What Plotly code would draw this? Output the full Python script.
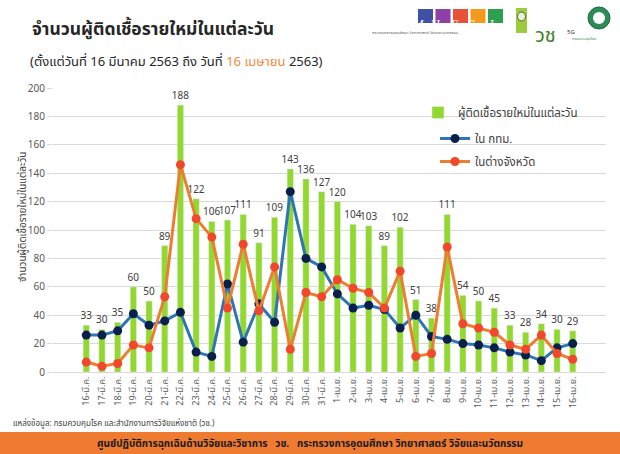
import plotly.graph_objects as go

days = ["16-มี.ค.", "17-มี.ค.", "18-มี.ค.", "19-มี.ค.", "20-มี.ค.", "21-มี.ค.", "22-มี.ค.", "23-มี.ค.",
        "24-มี.ค.", "25-มี.ค.", "26-มี.ค.", "27-มี.ค.", "28-มี.ค.", "29-มี.ค.", "30-มี.ค.", "31-มี.ค.",
        "1-เม.ย.", "2-เม.ย.", "3-เม.ย.", "4-เม.ย.", "5-เม.ย.", "6-เม.ย.", "7-เม.ย.", "8-เม.ย.",
        "9-เม.ย.", "10-เม.ย.", "11-เม.ย.", "12-เม.ย.", "13-เม.ย.", "14-เม.ย.", "15-เม.ย.", "16-เม.ย."]
total_new = [33, 30, 35, 60, 50, 89, 188, 122, 106, 107, 111, 91, 109, 143, 136, 127,
             120, 104, 103, 89, 102, 51, 38, 111, 54, 50, 45, 33, 28, 34, 30, 29]
bangkok = [26, 26, 29, 41, 33, 36, 42, 14, 11, 62, 21, 48, 35, 127, 80, 74,
           55, 45, 47, 44, 31, 40, 25, 23, 20, 19, 17, 14, 12, 8, 17, 20]
provinces = [7, 4, 6, 19, 17, 53, 146, 108, 95, 45, 90, 43, 74, 16, 56, 53,
             65, 59, 56, 45, 71, 11, 13, 88, 34, 31, 28, 19, 16, 26, 13, 9]
y_ticks = [0, 20, 40, 60, 80, 100, 120, 140, 160, 180, 200]

FONT = "Noto Sans, Noto Sans Thai, Tahoma, sans-serif"
W, H = 620, 454
L, R, T, B = 53, 14, 88, 82
PW, PH = W - L - R, H - T - B

fig = go.Figure()
fig.add_trace(go.Bar(
    x=days, y=total_new, name="ผู้ติดเชื้อรายใหม่ในแต่ละวัน", legend="legend",
    marker=dict(color="#92D82E"), width=0.4,
    text=total_new, textposition="outside", cliponaxis=False, constraintext="none",
    textfont=dict(size=10, color="#404040")))
fig.add_trace(go.Scatter(
    x=days, y=bangkok, name="ใน กทม.", mode="lines+markers", legend="legend2", legendgroup="a",
    line=dict(color="#2E75B6", width=3),
    marker=dict(color="#0B1F4B", size=9)))
fig.add_trace(go.Scatter(
    x=days, y=provinces, name="ในต่างจังหวัด", mode="lines+markers", legend="legend2", legendgroup="b",
    line=dict(color="#ED7D31", width=3),
    marker=dict(color="#F2472A", size=9)))


def px(x):
    return (x - L) / PW


def py(y):
    return (H - B - y) / PH


shapes = [
    dict(type="rect", xref="paper", yref="paper", x0=px(-20), x1=px(W + 20),
         y0=py(H + 20), y1=py(432), fillcolor="#EE7B30", line=dict(width=0), layer="below"),
]
annotations = [
    dict(text="<b>จำนวนผู้ติดเชื้อรายใหม่ในแต่ละวัน</b>", xref="paper", yref="paper",
         x=px(30), y=py(28), xanchor="left", yanchor="middle", showarrow=False,
         font=dict(size=17.5, color="#262626", family=FONT)),
    dict(text="(ตั้งแต่วันที่ 16 มีนาคม 2563 ถึง วันที่ <span style='color:#F08A3C'>16 เมษายน</span> 2563)",
         xref="paper", yref="paper", x=px(28), y=py(61), xanchor="left", yanchor="middle",
         showarrow=False, font=dict(size=13, color="#262626", family=FONT)),
    dict(text="จำนวนผู้ติดเชื้อรายใหม่ในแต่ละวัน", xref="paper", yref="paper",
         x=px(22), y=py(217), textangle=-90, showarrow=False, xanchor="center", yanchor="middle",
         font=dict(size=10, color="#404040", family=FONT)),
    dict(text="แหล่งข้อมูล: กรมควบคุมโรค และสำนักงานการวิจัยแห่งชาติ (วช.)", xref="paper", yref="paper",
         x=px(11), y=py(423), xanchor="left", yanchor="middle", showarrow=False,
         font=dict(size=8, color="#404040", family=FONT)),
    dict(text="<b>ศูนย์ปฏิบัติการฉุกเฉินด้านวิจัยและวิชาการ   วช.   กระทรวงการอุดมศึกษา วิทยาศาสตร์ วิจัยและนวัตกรรม</b>",
         xref="paper", yref="paper", x=px(310), y=py(443), xanchor="center", yanchor="middle",
         showarrow=False, font=dict(size=10, color="#1a1a1a", family=FONT)),
]

mhesi_cols = ["#3F51A5", "#8E3FA8", "#E8503A", "#F39A1E", "#2E9E4F"]
for i, (ch, c) in enumerate(zip("MHESI", mhesi_cols)):
    x0 = 418 + i * 17.5
    shapes.append(dict(type="rect", xref="paper", yref="paper", x0=px(x0), x1=px(x0 + 15),
                       y0=py(23), y1=py(9), fillcolor=c, line=dict(width=0)))
    annotations.append(dict(text=ch, xref="paper", yref="paper", x=px(x0 + 7.5), y=py(16),
                            showarrow=False, font=dict(size=11, color="white", family="DejaVu Serif")))
annotations.append(dict(text="กระทรวงการอุดมศึกษา วิทยาศาสตร์ วิจัยและนวัตกรรม", xref="paper", yref="paper",
                        x=px(461), y=py(28), showarrow=False, font=dict(size=4, color="#555", family=FONT)))
shapes.append(dict(type="rect", xref="paper", yref="paper", x0=px(516), x1=px(527), y0=py(33), y1=py(8),
                   fillcolor="#9CCB3B", line=dict(width=0)))
shapes.append(dict(type="circle", xref="paper", yref="paper", x0=px(517.5), x1=px(525.5), y0=py(21), y1=py(12),
                   fillcolor="#E8F0D8", line=dict(color="#4a6a2a", width=1)))
annotations.append(dict(text="วช", xref="paper", yref="paper", x=px(558), y=py(19), showarrow=False,
                        font=dict(size=20, color="#3F7F2A", family=FONT)))
annotations.append(dict(text="5G", xref="paper", yref="paper", x=px(577), y=py(26), showarrow=False,
                        font=dict(size=6, color="#333", family=FONT)))
shapes.append(dict(type="circle", xref="paper", yref="paper", x0=px(588), x1=px(610), y0=py(29), y1=py(7),
                   fillcolor="#2E8B57", line=dict(color="#1E6B3F", width=1)))
shapes.append(dict(type="circle", xref="paper", yref="paper", x0=px(593), x1=px(605), y0=py(24), y1=py(12),
                   fillcolor="white", line=dict(width=0)))
annotations.append(dict(text="กรมควบคุมโรค", xref="paper", yref="paper", x=px(599), y=py(34), showarrow=False,
                        font=dict(size=4, color="#2E8B57", family=FONT)))

legend_font = dict(size=11.5, color="#404040", family=FONT)
fig.update_layout(
    width=W, height=H,
    margin=dict(l=L, r=R, t=T, b=B, autoexpand=False),
    paper_bgcolor="white", plot_bgcolor="white",
    font=dict(family=FONT, color="#404040"),
    bargap=0.6,
    showlegend=True,
    legend=dict(x=px(418), y=py(98), xanchor="left", yanchor="top", bgcolor="rgba(0,0,0,0)",
                font=legend_font),
    legend2=dict(x=px(435), y=py(124), xanchor="left", yanchor="top", bgcolor="rgba(0,0,0,0)",
                 font=legend_font, tracegroupgap=4),
    xaxis=dict(type="category", tickangle=-90, tickfont=dict(size=9, color="#595959"),
               showgrid=False, showline=True, linecolor="#D9D9D9", ticks="", automargin=False),
    yaxis=dict(range=[0, 200], tickvals=y_ticks, tickfont=dict(size=10, color="#595959"),
               showgrid=True, gridcolor="#D9D9D9", gridwidth=1, zeroline=False, automargin=False,
               ticks="outside", ticklen=5, tickcolor="#D9D9D9", showline=False),
    shapes=shapes, annotations=annotations,
)

fig.write_html("out.html", config={"displayModeBar": False},
               post_script="document.body.style.margin='0';document.body.style.overflow='hidden';")
